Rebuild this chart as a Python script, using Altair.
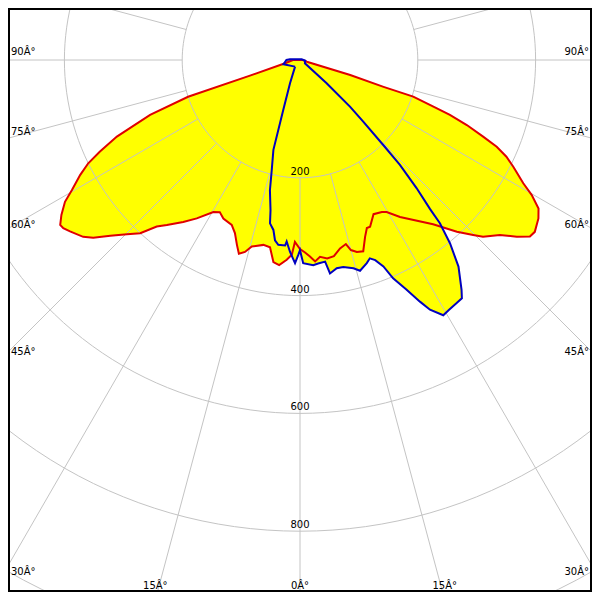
import math
import altair as alt
import pandas as pd

# ---- data (gamma angle in degrees, intensity) ----
RED_GAMMA = [-90, -77.6, -72.6, -71.8, -69.9, -67.3, -65.4, -64.0, -62.4, -60.3, -58.9, -57.0,
             -55.5, -54.6, -53.3, -50.8, -49.3, -47.2, -44.8, -42.7, -40.7, -38.9, -35.8, -33.1,
             -29.7, -27.8, -25.8, -22.5, -20.6, -18.8, -17.5, -16.0, -14.5, -11.2, -9.1, -7.5,
             -5.8, -3.8, -2.4, -1.6, 0, 1.5, 2.9, 4.3, 5.8, 7.8, 9.8, 12.0, 14.0, 15.0, 16.5,
             18.3, 20.2, 21.7, 22.8, 25.5, 28.3, 29.7, 32.5, 39.0, 42.4, 44.7, 46.0, 48.8, 50.8,
             52.5, 53.8, 56.4, 58.1, 59.8, 61.1, 63.4, 64.9, 66.2, 67.3, 68.7, 69.9, 70.7, 72.1,
             72.2, 73.3, 75.8, 90]
RED_CD = [12, 26, 89, 200, 271, 337, 374, 400, 421, 446, 466, 483,
          494, 493, 487, 475, 463, 439, 417, 400, 373, 360, 339, 321,
          297, 292, 299, 303, 314, 332, 345, 339, 327, 320, 322, 346,
          350, 340, 331, 309, 321, 327, 334, 343, 336, 340, 338, 327, 322, 334, 340,
          342, 320, 307, 307, 290, 293, 297, 316, 359, 395, 418, 432, 451, 475,
          492, 494, 486, 477, 455, 433, 405, 387, 365, 337, 304, 271, 240, 202,
          149, 89, 12, 5]

BLUE_GAMMA = [-36.7, -23.2, -18.5, -16.5, -14.4, -13.0, -11.1, -10.4, -8.9, -7.9, -6.7, -4.6,
              -4.2, -3.0, -1.4, -0.5, 0, 0.9, 3.7, 5.1, 7.1, 8.0, 10.0, 11.8, 14.4, 15.9, 18.2,
              19.4, 20.6, 22.0, 23.1, 24.9, 26.4, 27.5, 29.3, 30.7, 32.8, 34.2, 35.1, 37.5,
              39.3, 40.6, 41.1, 42.3, 43.6, 44.4, 45.7, 47.0, 48.9, 56.6, 82, 112, -94, -90, -75.6]
BLUE_CD = [14, 43, 90, 159, 193, 227, 260, 282, 292, 309, 316, 316,
           309, 326, 345, 331, 323, 345, 349, 347, 345, 366, 359, 359, 365, 372, 363,
           357, 363, 378, 403, 430, 458, 478, 497, 494, 491, 489, 477, 442,
           402, 365, 336, 294, 246, 202, 150, 116, 60, 10, 9, 3, 17, 23, 29]

RING_LABELS = [200, 400, 600, 800]
GRID_RINGS = [200, 400, 600, 800, 1000, 1200]
SPOKE_ANGLES = list(range(0, 360, 15))
SIDE_ANGLES = [90, 75, 60, 45, 30]
BOTTOM_ANGLES = [-15, 0, 15]

# ---- layout constants ----
S = 0.589          # pixels per unit of intensity
CX, CY = 300, 60   # pole position on the page
OFF = 8            # page margin
W = H = 584
XMIN, XMAX = (OFF - CX) / S, (OFF + W - CX) / S
YMAX, YMIN = (CY - OFF) / S, (CY - OFF - H) / S

xs = alt.Scale(domain=[XMIN, XMAX], nice=False, zero=False)
ys = alt.Scale(domain=[YMIN, YMAX], nice=False, zero=False)
X = alt.X("x:Q", scale=xs, axis=None)
Y = alt.Y("y:Q", scale=ys, axis=None)


def curve_df(g, cd, close=False):
    g = list(g); cd = list(cd)
    if close:
        g = g + [g[0]]; cd = cd + [cd[0]]
    return pd.DataFrame({"g": g, "cd": cd, "i": range(len(g))})


def polar(ch):
    return ch.transform_calculate(
        x="datum.cd * sin(datum.g * PI / 180)",
        y="-datum.cd * cos(datum.g * PI / 180)",
    )


red_fill = polar(alt.Chart(curve_df(RED_GAMMA, RED_CD)).mark_line(
    fill="#ffff00", stroke="#ffff00", strokeWidth=0, clip=True)).encode(x=X, y=Y, order="i:Q")
blue_fill = polar(alt.Chart(curve_df(BLUE_GAMMA, BLUE_CD)).mark_line(
    fill="#ffff00", stroke="#ffff00", strokeWidth=0, clip=True)).encode(x=X, y=Y, order="i:Q")

# grid rings
ring_rows = []
for r in GRID_RINGS:
    for k, a in enumerate(range(0, 361, 2)):
        ring_rows.append({"ring": r, "g": a, "cd": r, "i": k})
rings = polar(alt.Chart(pd.DataFrame(ring_rows)).mark_line(
    color="#c4c4c4", strokeWidth=1, clip=True)).encode(x=X, y=Y, detail="ring:N", order="i:Q")

spoke_rows = []
for a in SPOKE_ANGLES:
    spoke_rows.append({"sp": a, "g": a, "cd": 200, "i": 0})
    spoke_rows.append({"sp": a, "g": a, "cd": 1400, "i": 1})
spokes = polar(alt.Chart(pd.DataFrame(spoke_rows)).mark_line(
    color="#c4c4c4", strokeWidth=1, clip=True)).encode(x=X, y=Y, detail="sp:N", order="i:Q")

red_line = polar(alt.Chart(curve_df(RED_GAMMA, RED_CD, close=True)).mark_line(
    color="#e00000", strokeWidth=2, clip=True)).encode(x=X, y=Y, order="i:Q")
blue_line = polar(alt.Chart(curve_df(BLUE_GAMMA, BLUE_CD, close=True)).mark_line(
    color="#0000c0", strokeWidth=2, clip=True)).encode(x=X, y=Y, order="i:Q")

FONT = "DejaVu Sans"
FS = 10

val_df = pd.DataFrame({"x": [0] * len(RING_LABELS), "y": [-v for v in RING_LABELS],
                       "t": [str(v) for v in RING_LABELS]})
val_text = alt.Chart(val_df).mark_text(font=FONT, fontSize=FS, color="black", dy=-6,
                                       align="center", baseline="middle").encode(x=X, y=Y, text="t:N")


def ang_label(a):
    return f"{a}Â°"


side_y = [(CY - (CY + CX * math.cos(math.radians(a)) / math.sin(math.radians(a)) - 8)) / S
          for a in SIDE_ANGLES]
left_df = pd.DataFrame({"x": [(11 - CX) / S] * len(SIDE_ANGLES), "y": side_y,
                        "t": [ang_label(a) for a in SIDE_ANGLES]})
right_df = pd.DataFrame({"x": [(589 - CX) / S] * len(SIDE_ANGLES), "y": side_y,
                         "t": [ang_label(a) for a in SIDE_ANGLES]})
bottom_df = pd.DataFrame({"x": [540 * math.tan(math.radians(a)) / S for a in BOTTOM_ANGLES],
                          "y": [(CY - 585.5) / S] * len(BOTTOM_ANGLES),
                          "t": [ang_label(abs(a)) for a in BOTTOM_ANGLES]})

left_text = alt.Chart(left_df).mark_text(font=FONT, fontSize=FS, color="black", align="left",
                                         baseline="middle").encode(x=X, y=Y, text="t:N")
right_text = alt.Chart(right_df).mark_text(font=FONT, fontSize=FS, color="black", align="right",
                                           baseline="middle").encode(x=X, y=Y, text="t:N")
bottom_text = alt.Chart(bottom_df).mark_text(font=FONT, fontSize=FS, color="black", align="center",
                                             baseline="middle").encode(x=X, y=Y, text="t:N")

frame = alt.Chart(pd.DataFrame({"a": [0]})).mark_rect(
    filled=False, stroke="black", strokeWidth=4).encode(
    x=alt.value(0), x2=alt.value(W), y=alt.value(0), y2=alt.value(H))

chart = alt.layer(red_fill, blue_fill, rings, spokes, red_line, blue_line,
                  val_text, left_text, right_text, bottom_text, frame).properties(
    width=W, height=H, padding=0, autosize="none", background="white"
).configure_view(stroke=None)

chart.save("out.html", embed_options={"renderer": "svg", "actions": False})
